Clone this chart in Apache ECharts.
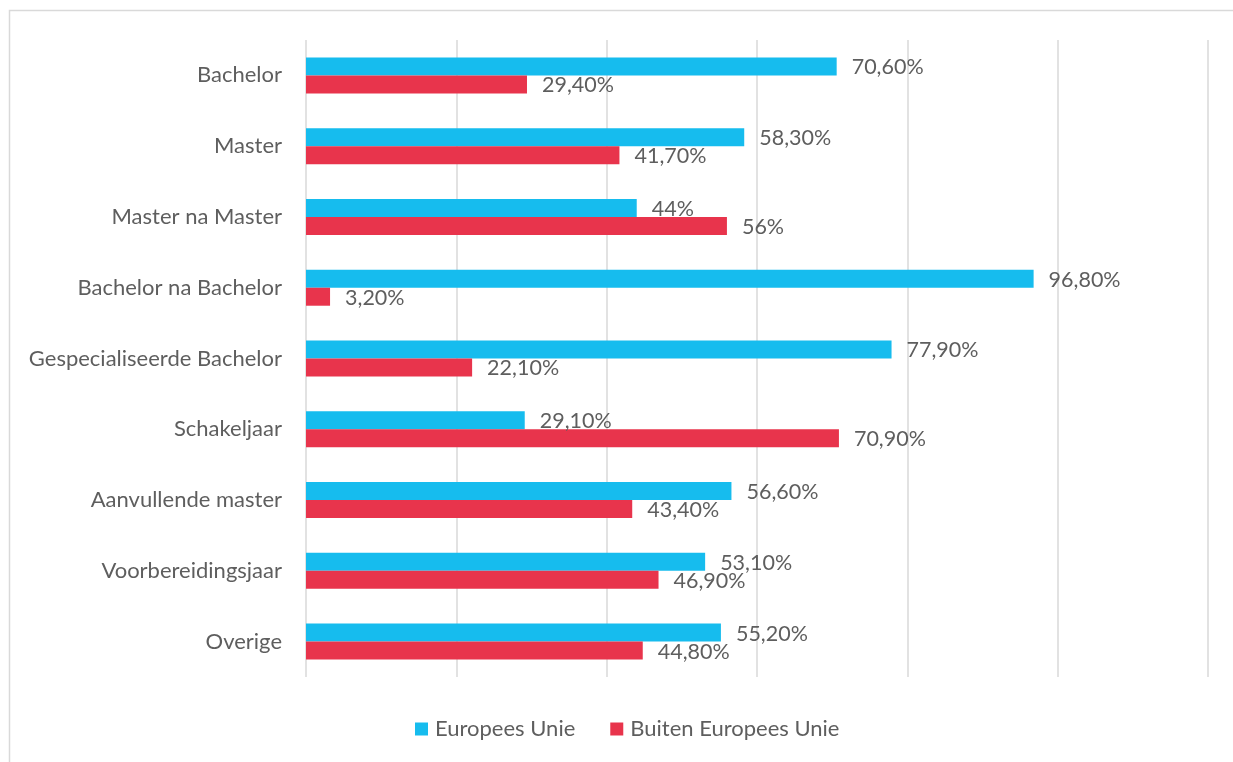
<!DOCTYPE html>
<html><head><meta charset="utf-8">
<script src="https://cdn.jsdelivr.net/npm/echarts@6/dist/echarts.min.js"></script>
<style>html,body{margin:0;padding:0;background:#fff}#c{width:1233px;height:762px}</style>
</head><body><div id="c"></div>
<script>
const categories = ['Bachelor','Master','Master na Master','Bachelor na Bachelor','Gespecialiseerde Bachelor','Schakeljaar','Aanvullende master','Voorbereidingsjaar','Overige'];
const euValues = [70.6, 58.3, 44, 96.8, 77.9, 29.1, 56.6, 53.1, 55.2];
const nonEuValues = [29.4, 41.7, 56, 3.2, 22.1, 70.9, 43.4, 46.9, 44.8];
const seriesNames = ['Europees Unie', 'Buiten Europees Unie'];

const FONT = 'Lato';
const TXT = '#5e5e5e';
function fmt(p){ const v = p.value; return (Number.isInteger(v) ? String(v) : v.toFixed(2).replace('.', ',')) + '%'; }

const chart = echarts.init(document.getElementById('c'));
chart.setOption({
  animation: false,
  textStyle: { fontFamily: FONT },
  graphic: [{ type: 'rect', shape: { x: 9.5, y: 10.5, width: 1250, height: 780 }, style: { fill: 'none', stroke: '#d9d9d9', lineWidth: 1.5 }, silent: true }],
  grid: { left: 306, right: 25, top: 40, bottom: 85 },
  legend: {
    bottom: 17, left: 410, itemWidth: 13, itemHeight: 13, itemGap: 35, icon: 'rect',
    textStyle: { color: TXT, fontSize: 22, fontFamily: FONT, padding: [0, 0, 0, 2] }
  },
  xAxis: {
    type: 'value', min: 0, max: 120, interval: 20,
    axisLabel: { show: false }, axisLine: { show: false }, axisTick: { show: false },
    splitLine: { lineStyle: { color: '#d9d9d9', width: 1.5 } }
  },
  yAxis: {
    type: 'category', data: categories, inverse: true,
    axisLine: { show: false }, axisTick: { show: false },
    axisLabel: { color: TXT, fontSize: 22, fontFamily: FONT, margin: 24 }
  },
  series: [
    { name: seriesNames[0], type: 'bar', data: euValues, barWidth: 18, barGap: '0%',
      itemStyle: { color: '#16BCEE' },
      label: { show: true, position: 'right', distance: 15, offset: [0, 1], formatter: fmt, color: TXT, fontSize: 21.5, fontFamily: FONT } },
    { name: seriesNames[1], type: 'bar', data: nonEuValues, barWidth: 18, barGap: '0%',
      itemStyle: { color: '#E8344C' },
      label: { show: true, position: 'right', distance: 15, offset: [0, 1], formatter: fmt, color: TXT, fontSize: 21.5, fontFamily: FONT } }
  ]
});
</script></body></html>
